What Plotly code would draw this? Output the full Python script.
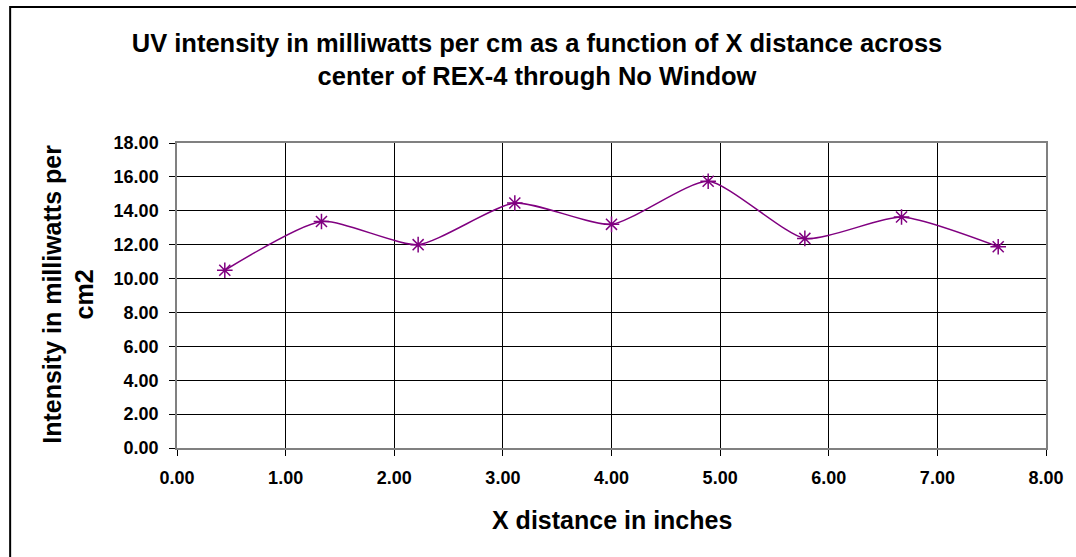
import plotly.graph_objects as go

# readings across REX-4, no window
x_inches = [0.44, 1.33, 2.22, 3.11, 4.00, 4.89, 5.78, 6.67, 7.56]
intensity = [10.49, 13.37, 12.00, 14.46, 13.20, 15.74, 12.37, 13.63, 11.88]

x_ticks = [0, 1, 2, 3, 4, 5, 6, 7, 8]
y_ticks = [0, 2, 4, 6, 8, 10, 12, 14, 16, 18]

W, H = 1076, 557
ML, MR, MT, MB = 177, 24, 143, 109
pw, ph = W - ML - MR, H - MT - MB
FONT = "Arial, Liberation Sans, sans-serif"


def px_x(px):
    # page pixel -> paper x
    return (px - ML) / pw


def px_y(py):
    # page pixel -> paper y
    return (H - MB - py) / ph


fig = go.Figure()

fig.add_trace(go.Scatter(
    x=x_inches,
    y=intensity,
    mode="lines+markers",
    line=dict(color="#800080", width=1.5, shape="spline", smoothing=0.6),
    marker=dict(symbol="asterisk-open", size=13, color="#800080",
                line=dict(color="#800080", width=1.5)),
    showlegend=False,
))

axis_common = dict(
    showline=True, linecolor="#808080", linewidth=1.5, mirror=True,
    showgrid=True, gridcolor="black", gridwidth=1,
    ticks="outside", ticklen=6, tickcolor="black",
    tickformat=".2f", zeroline=False,
    tickfont=dict(family=FONT, size=18, color="black", weight="bold"),
)

fig.update_xaxes(range=[0, 8], tickvals=x_ticks, ticklabelstandoff=7, **axis_common)
fig.update_yaxes(range=[0, 18], tickvals=y_ticks, ticklabelstandoff=7, **axis_common)

# axis titles
fig.add_annotation(text="X distance in inches", xref="paper", yref="paper",
                   x=0.5, y=px_y(520), xanchor="center", yanchor="middle",
                   showarrow=False,
                   font=dict(family=FONT, size=25, color="black", weight="bold"))
fig.add_annotation(text="Intensity in milliwatts per<br>cm2", xref="paper", yref="paper",
                   x=px_x(67), y=px_y(294), xanchor="center", yanchor="middle",
                   textangle=-90, showarrow=False,
                   font=dict(family=FONT, size=25, color="black", weight="bold"))

# outer chart border (right and bottom edges fall off the page)
fig.add_shape(type="rect", xref="paper", yref="paper",
              x0=px_x(9), x1=px_x(1100), y0=px_y(580), y1=px_y(7),
              line=dict(color="black", width=2), layer="below")

fig.update_layout(
    width=W, height=H,
    margin=dict(l=ML, r=MR, t=MT, b=MB),
    paper_bgcolor="white", plot_bgcolor="white",
    title=dict(
        text="UV intensity in milliwatts per cm as a function of X distance across<br>center of REX-4 through No Window",
        x=537 / W, xref="container", xanchor="center",
        y=1 - 52 / H, yref="container", yanchor="middle",
        font=dict(family=FONT, size=25.5, color="black", weight="bold"),
    ),
    font=dict(family=FONT, color="black"),
)

fig.write_html("out.html", config={"displayModeBar": False},
               post_script="document.body.style.margin='0';")
